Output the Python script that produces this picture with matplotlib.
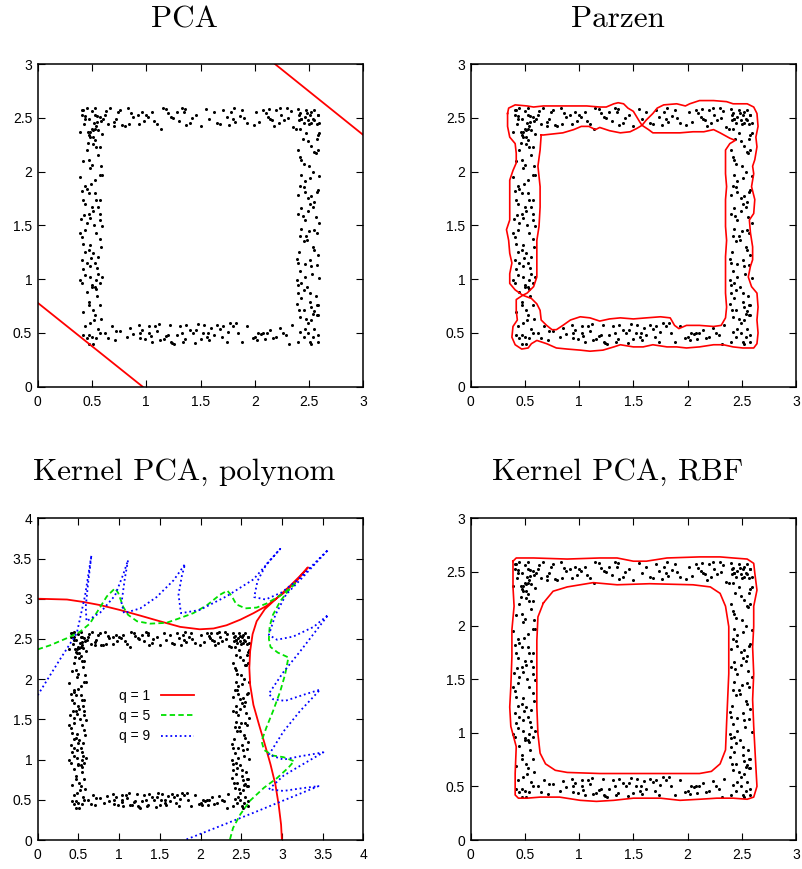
import matplotlib
matplotlib.use("Agg")
import matplotlib.pyplot as plt
import numpy as np

# ---- data points (same sample in all four panels) ----
top_pts = [(0.41,2.57),(0.45,2.59),(0.44,2.52),(0.47,2.49),(0.50,2.56),(0.53,2.59),(0.55,2.52),(0.57,2.51),
           (0.58,2.47),(0.60,2.49),(0.62,2.53),(0.67,2.59),(0.70,2.46),(0.70,2.42),(0.72,2.49),(0.76,2.57),
           (0.78,2.43),(0.80,2.42),(0.83,2.59),(0.84,2.44),(0.88,2.51),(0.92,2.53),(0.93,2.44),(0.96,2.55),
           (1.00,2.53),(1.02,2.51),(1.05,2.55),(1.14,2.40),(1.15,2.59),(1.20,2.54),(1.23,2.51),(1.25,2.50),
           (1.30,2.47),(1.33,2.59),(1.35,2.55),(1.37,2.43),(1.36,2.58),(1.42,2.50),(1.46,2.53),(1.50,2.42),
           (1.65,2.45),(1.68,2.44),(1.71,2.57),(1.74,2.51),(1.76,2.43),(1.81,2.59),(1.80,2.49),(1.82,2.46),
           (1.86,2.52),(1.88,2.57),(1.93,2.45),(1.99,2.43),(2.08,2.57),(2.10,2.54),(2.12,2.51),(2.14,2.49),
           (2.16,2.48),(2.18,2.42),(2.20,2.57),(2.23,2.59),(2.24,2.53),(2.27,2.48),(2.30,2.59),(2.33,2.56),
           (2.35,2.41),(2.38,2.40),(2.41,2.53),(2.43,2.49),(2.46,2.51),(2.47,2.57),(2.50,2.44),(2.52,2.55),
           (2.55,2.48),(2.58,2.53),(2.59,2.45),(2.13,2.58),(1.55,2.58),(0.98,2.47),(1.10,2.44),(1.62,2.55),
           (2.04,2.46),(0.65,2.44),(0.52,2.45),(0.63,2.56),(0.86,2.54),(1.07,2.47),(1.18,2.58),(1.28,2.55),
           (1.40,2.45),(1.58,2.49),(1.78,2.55),(1.90,2.50),(2.01,2.55),(2.22,2.45),(2.31,2.50),(2.40,2.58),
           (2.49,2.48),(0.74,2.55)]
bottom_pts = [(0.68,0.56),(0.71,0.43),(0.82,0.46),(0.93,0.57),(0.94,0.50),(0.94,0.45),(0.96,0.53),(1.03,0.56),
              (1.03,0.50),(1.05,0.42),(1.08,0.56),(1.04,0.47),(1.13,0.43),(1.16,0.44),(1.22,0.57),(1.23,0.42),
              (1.26,0.40),(1.24,0.41),(1.31,0.56),(1.33,0.50),(1.36,0.44),(1.37,0.57),(1.40,0.53),(1.43,0.50),
              (1.46,0.53),(1.50,0.44),(1.53,0.57),(1.56,0.46),(1.57,0.50),(1.58,0.43),(1.65,0.57),(1.68,0.54),
              (1.71,0.56),(1.74,0.42),(1.77,0.59),(1.80,0.56),(1.83,0.59),(1.75,0.51),(1.88,0.42),(2.00,0.46),
              (2.02,0.43),(2.03,0.50),(2.06,0.49),(2.08,0.50),(2.11,0.50),(2.14,0.53),(2.20,0.46),(2.26,0.50),
              (2.32,0.40),(2.34,0.57),(1.98,0.45),(1.20,0.48),(1.10,0.52),(1.45,0.41),(1.62,0.48),(2.17,0.45),
              (0.88,0.49),(0.62,0.50),(0.76,0.52),(1.28,0.48),(0.72,0.52),(0.85,0.55),(0.99,0.44),(1.12,0.58),
              (1.18,0.47),(1.34,0.42),(1.48,0.58),(1.60,0.55),(1.70,0.46),(1.85,0.50),(1.93,0.56),(2.09,0.44),
              (2.23,0.55),(2.29,0.48),(1.52,0.50),(0.65,0.45)]
left_pts = [(0.41,2.53),(0.46,2.37),(0.48,2.37),(0.50,2.40),(0.51,2.39),(0.53,2.40),(0.54,2.42),(0.56,2.39),
            (0.47,2.34),(0.48,2.32),(0.51,2.26),(0.54,2.23),(0.57,2.23),(0.53,2.29),(0.56,2.15),(0.50,2.06),
            (0.48,2.03),(0.57,1.97),(0.59,1.97),(0.39,1.95),(0.44,1.87),(0.45,1.84),(0.47,1.80),(0.53,1.80),
            (0.50,1.67),(0.54,1.74),(0.57,1.74),(0.42,1.74),(0.44,1.70),(0.47,1.61),(0.51,1.63),(0.57,1.61),
            (0.57,1.55),(0.59,1.49),(0.45,1.52),(0.44,1.46),(0.39,1.43),(0.41,1.39),(0.54,1.43),(0.48,1.32),
            (0.47,1.27),(0.51,1.24),(0.56,1.21),(0.45,1.15),(0.53,1.15),(0.48,1.12),(0.56,1.05),(0.54,0.99),
            (0.39,0.99),(0.41,0.96),(0.50,0.95),(0.57,0.96),(0.44,1.04),(0.48,1.02),(0.41,1.18),(0.53,0.93),
            (0.50,0.93),(0.54,0.91),(0.47,0.79),(0.47,0.76),(0.57,0.76),(0.51,0.71),(0.53,0.67),(0.48,0.59),
            (0.56,0.54),(0.50,0.46),(0.45,0.45),(0.47,0.48),(0.42,0.48),(0.57,0.50),(0.47,0.40),(0.51,0.40),
            (0.39,2.37),(0.44,2.49),(0.42,2.57),(0.53,2.53),(0.51,2.32),(0.45,2.20),(0.47,2.11),(0.43,1.60),
            (0.58,1.30),(0.40,1.56),(0.49,1.88),(0.55,1.10),(0.52,0.62),(0.44,1.25),(0.58,2.05),(0.43,2.44),
            (0.55,2.46),(0.46,2.27),(0.59,2.35),(0.42,2.10),(0.53,1.92),(0.41,1.82),(0.56,1.67),(0.48,1.57),
            (0.52,1.50),(0.42,1.33),(0.57,1.37),(0.49,1.20),(0.42,1.09),(0.59,1.02),(0.45,0.88),(0.55,0.84),
            (0.42,0.69),(0.58,0.63),(0.44,0.56),(0.54,0.45)]
right_pts = [(2.49,2.28),(2.58,2.34),(2.59,2.36),(2.40,2.20),(2.42,2.14),(2.43,2.11),(2.55,2.18),(2.56,2.17),
             (2.58,2.20),(2.43,1.97),(2.46,1.91),(2.51,1.94),(2.54,2.00),(2.42,1.87),(2.45,1.86),(2.46,1.81),
             (2.49,1.75),(2.52,1.77),(2.51,1.70),(2.54,1.67),(2.57,1.81),(2.58,1.83),(2.40,1.61),(2.43,1.66),
             (2.46,1.55),(2.49,1.63),(2.55,1.46),(2.57,1.43),(2.43,1.47),(2.45,1.35),(2.48,1.36),(2.54,1.30),
             (2.55,1.27),(2.51,1.18),(2.52,1.12),(2.57,1.13),(2.39,1.19),(2.40,1.15),(2.42,1.08),(2.46,1.02),
             (2.39,0.99),(2.40,0.95),(2.43,0.96),(2.45,0.90),(2.40,0.87),(2.43,0.82),(2.51,0.87),(2.51,0.79),
             (2.52,0.74),(2.57,0.76),(2.58,0.76),(2.55,0.70),(2.57,0.67),(2.39,0.77),(2.45,0.71),(2.42,0.65),
             (2.46,0.54),(2.49,0.50),(2.51,0.42),(2.52,0.40),(2.58,0.48),(2.58,0.42),(2.45,0.46),(2.42,0.51),
             (2.52,0.62),(2.49,0.59),(2.55,0.54),(2.58,0.67),(2.42,2.54),(2.43,2.49),(2.48,2.54),(2.51,2.53),
             (2.55,2.57),(2.58,2.53),(2.45,2.45),(2.54,2.49),(2.52,2.45),(2.57,2.30),(2.42,2.40),(2.54,0.68),
             (2.47,1.40),(2.41,1.25),(2.53,1.05),(2.44,2.30),(2.56,1.58),(2.50,2.05),(2.41,2.48),(2.57,2.44),
             (2.47,2.36),(2.52,2.24),(2.45,2.07),(2.59,1.96),(2.40,1.78),(2.55,1.72),(2.44,1.59),(2.59,1.52),
             (2.50,1.45),(2.42,1.40),(2.58,1.22),(2.46,1.14),(2.59,1.01),(2.48,0.93),(2.56,0.84),(2.41,0.71),
             (2.47,0.63),(2.54,0.46),(2.40,0.42)]

# ---- PCA: two parallel lines ----
pca_low_x = [0.0, 0.967]
pca_low_y = [0.78, 0.0]
pca_high_x = [2.186, 3.0]
pca_high_y = [3.0, 2.34]

# ---- Parzen contour (outer and inner, touching at two saddles) ----
parzen_outer = [(0.34,2.54),(0.35,2.59),(0.41,2.62),(0.52,2.61),(0.58,2.60),(0.67,2.61),(0.82,2.61),(0.95,2.61),
                (1.07,2.61),(1.19,2.60),(1.25,2.60),(1.32,2.63),(1.36,2.64),(1.41,2.63),(1.45,2.59),(1.50,2.56),
                (1.53,2.51),(1.56,2.46),(1.58,2.43),(1.62,2.48),(1.68,2.54),(1.72,2.59),(1.78,2.62),(1.90,2.63),
                (1.98,2.61),(2.02,2.63),(2.11,2.66),(2.24,2.66),(2.36,2.65),(2.42,2.63),(2.55,2.63),(2.61,2.60),
                (2.64,2.54),(2.65,2.42),(2.63,2.32),(2.64,2.23),(2.62,2.11),(2.60,2.05),(2.61,1.98),(2.59,1.86),
                (2.62,1.74),(2.61,1.61),(2.57,1.55),(2.58,1.43),(2.60,1.30),(2.60,1.18),(2.58,1.12),(2.56,1.02),
                (2.59,0.93),(2.64,0.87),(2.65,0.74),(2.64,0.62),(2.65,0.50),(2.64,0.40),(2.61,0.36),(2.51,0.36),
                (2.42,0.37),(2.33,0.39),(2.24,0.39),(2.11,0.37),(1.99,0.36),(1.90,0.37),(1.81,0.37),(1.68,0.39),
                (1.59,0.37),(1.50,0.37),(1.38,0.39),(1.32,0.37),(1.22,0.34),(1.10,0.33),(1.01,0.34),(0.89,0.35),
                (0.79,0.36),(0.70,0.40),(0.61,0.43),(0.56,0.40),(0.53,0.36),(0.47,0.35),(0.41,0.39),(0.38,0.46),
                (0.39,0.56),(0.43,0.62),(0.42,0.71),(0.42,0.81),(0.48,0.85),(0.41,0.90),(0.36,0.96),(0.36,1.05),
                (0.38,1.15),(0.36,1.24),(0.35,1.36),(0.33,1.46),(0.36,1.55),(0.36,1.67),(0.36,1.80),(0.36,1.92),
                (0.39,2.01),(0.42,2.08),(0.42,2.17),(0.41,2.26),(0.36,2.32),(0.34,2.42),(0.34,2.54)]
parzen_inner = [(0.65,2.34),(0.64,2.20),(0.62,2.05),(0.64,1.86),(0.64,1.67),(0.63,1.49),(0.61,1.36),(0.61,1.18),
                (0.61,1.02),(0.58,0.93),(0.52,0.87),(0.48,0.85),(0.56,0.82),(0.61,0.77),(0.64,0.71),(0.65,0.62),
                (0.70,0.57),(0.75,0.53),(0.79,0.53),(0.85,0.57),(0.92,0.62),(1.01,0.65),(1.10,0.64),(1.19,0.61),
                (1.28,0.63),(1.38,0.64),(1.50,0.63),(1.62,0.64),(1.75,0.65),(1.84,0.64),(1.88,0.57),(1.92,0.54),
                (1.99,0.57),(2.11,0.57),(2.24,0.56),(2.31,0.57),(2.35,0.64),(2.36,0.74),(2.35,0.87),(2.35,1.05),
                (2.35,1.21),(2.36,1.36),(2.35,1.49),(2.35,1.61),(2.35,1.74),(2.36,1.86),(2.35,1.98),(2.35,2.11),
                (2.35,2.20),(2.39,2.26),(2.44,2.29),(2.39,2.31),(2.30,2.36),(2.24,2.39),(2.15,2.37),(2.05,2.37),
                (1.93,2.36),(1.81,2.36),(1.68,2.36),(1.64,2.39),(1.58,2.43),(1.53,2.40),(1.47,2.37),(1.38,2.36),
                (1.28,2.38),(1.19,2.41),(1.15,2.39),(1.09,2.42),(1.02,2.42),(0.95,2.39),(0.85,2.36),(0.76,2.35),
                (0.67,2.34),(0.65,2.34)]

# ---- Kernel PCA, polynomial: q = 1, 5, 9 ----
poly_q1 = [(0.0,3.0),(0.36,2.99),(0.56,2.96),(0.77,2.92),(1.01,2.86),(1.26,2.79),(1.50,2.72),(1.75,2.65),
           (1.99,2.62),(2.16,2.63),(2.32,2.67),(2.49,2.74),(2.65,2.82),(2.81,2.91),(3.02,3.07),(3.18,3.22),
           (3.32,3.39),(3.22,3.28),(3.10,3.16),(2.94,3.01),(2.79,2.87),(2.69,2.72),(2.64,2.56),(2.61,2.35),
           (2.60,2.14),(2.61,1.93),(2.65,1.68),(2.72,1.43),(2.79,1.19),(2.86,0.94),(2.92,0.69),(2.96,0.44),
           (2.99,0.19),(3.0,0.0)]
poly_q5 = [(0.0,2.37),(0.15,2.42),(0.36,2.51),(0.52,2.59),(0.64,2.69),(0.77,2.90),(0.85,3.03),(0.95,3.13),
           (0.99,3.07),(1.05,2.90),(1.11,2.80),(1.22,2.72),(1.38,2.69),(1.58,2.70),(1.75,2.76),(1.91,2.82),
           (2.08,2.92),(2.24,3.05),(2.33,3.10),(2.38,3.04),(2.44,2.93),(2.55,2.88),(2.69,2.89),(2.81,2.94),
           (2.98,3.04),(3.10,3.13),(3.18,3.21),(3.08,3.10),(2.98,2.97),(2.89,2.80),(2.85,2.66),(2.84,2.50),
           (2.86,2.40),(2.95,2.33),(3.08,2.27),(3.04,2.06),(2.98,1.85),(2.89,1.60),(2.81,1.40),(2.75,1.23),
           (2.78,1.12),(2.89,1.05),(3.02,1.03),(3.15,0.98),(3.08,0.90),(2.94,0.77),(2.78,0.65),(2.61,0.49),
           (2.49,0.32),(2.40,0.15),(2.36,0.0)]
poly_q9 = [(0.0,1.80),(0.27,2.24),(0.48,2.57),(0.58,3.03),(0.66,3.54),(0.62,3.20),(0.59,2.90),(0.60,2.72),
           (0.77,2.83),(0.95,3.04),(1.05,3.30),(1.11,3.48),(1.07,3.25),(1.03,2.95),(1.06,2.82),(1.26,2.88),
           (1.46,3.02),(1.67,3.23),(1.81,3.43),(1.77,3.28),(1.73,3.05),(1.76,2.82),(1.99,2.86),(2.32,3.03),
           (2.65,3.24),(2.98,3.62),(2.81,3.43),(2.70,3.22),(2.66,3.02),(2.80,2.99),(3.00,3.08),(3.20,3.24),
           (3.57,3.61),(3.24,3.25),(3.05,3.05),(2.92,2.80),(2.84,2.55),(2.94,2.49),(3.14,2.53),(3.39,2.65),
           (3.57,2.80),(3.22,2.34),(3.02,2.09),(2.84,1.82),(2.89,1.75),(3.04,1.73),(3.28,1.81),(3.47,1.87),
           (3.22,1.60),(3.02,1.35),(2.84,1.06),(3.02,1.00),(3.22,1.04),(3.51,1.09),(3.22,0.92),(3.02,0.80),
           (2.84,0.63),(3.02,0.61),(3.22,0.64),(3.45,0.67),(2.63,0.33),(1.81,0.0)]
poly_labels = ["q = 1", "q = 5", "q = 9"]

# ---- Kernel PCA, RBF contour ----
rbf_outer = [(0.39,2.60),(0.42,2.63),(0.58,2.63),(0.89,2.62),(1.19,2.63),(1.35,2.63),(1.50,2.60),(1.62,2.60),
             (1.81,2.63),(2.11,2.64),(2.30,2.64),(2.42,2.63),(2.55,2.62),(2.61,2.58),(2.62,2.49),(2.64,2.33),
             (2.61,2.18),(2.61,1.99),(2.60,1.80),(2.61,1.55),(2.60,1.31),(2.61,1.06),(2.62,0.87),(2.63,0.68),
             (2.64,0.50),(2.61,0.40),(2.55,0.38),(2.42,0.39),(2.27,0.39),(2.11,0.38),(1.93,0.37),(1.75,0.39),
             (1.50,0.39),(1.32,0.37),(1.16,0.36),(1.01,0.37),(0.82,0.40),(0.64,0.40),(0.52,0.39),(0.44,0.39),
             (0.41,0.42),(0.41,0.62),(0.42,0.87),(0.37,1.06),(0.36,1.24),(0.37,1.43),(0.38,1.71),(0.38,1.96),
             (0.40,2.18),(0.39,2.36),(0.39,2.51),(0.39,2.60)]
rbf_inner = [(0.67,2.21),(0.76,2.32),(0.89,2.36),(1.13,2.40),(1.35,2.38),(1.65,2.39),(2.05,2.38),(2.21,2.36),
             (2.30,2.30),(2.35,2.18),(2.38,1.99),(2.38,1.55),(2.36,1.09),(2.35,0.84),(2.30,0.71),(2.22,0.64),
             (2.11,0.62),(1.81,0.62),(1.50,0.62),(1.19,0.62),(0.89,0.63),(0.78,0.65),(0.69,0.71),(0.64,0.81),
             (0.62,0.99),(0.61,1.24),(0.61,1.55),(0.61,1.86),(0.62,2.08),(0.67,2.21)]

ticks3 = [0, 0.5, 1, 1.5, 2, 2.5, 3]
ticks4 = [0, 0.5, 1, 1.5, 2, 2.5, 3, 3.5, 4]
tick_text = ["0", "0.5", "1", "1.5", "2", "2.5", "3", "3.5", "4"]
titles = ["PCA", "Parzen", "Kernel PCA, polynom", "Kernel PCA, RBF"]

RED = "#ff0000"
GREEN = "#00e000"
BLUE = "#0000ff"

pts = np.array(top_pts + bottom_pts + left_pts + right_pts)


def xy(seq):
    a = np.array(seq)
    return a[:, 0], a[:, 1]


def style_axes(ax, ticks):
    ax.set_xlim(ticks[0], ticks[-1])
    ax.set_ylim(ticks[0], ticks[-1])
    ax.set_xticks(ticks)
    ax.set_yticks(ticks)
    ax.set_xticklabels(tick_text[:len(ticks)])
    ax.set_yticklabels(tick_text[:len(ticks)])
    ax.tick_params(direction="in", top=True, right=True, length=5, width=0.8,
                   labelsize=10)
    ax.tick_params(axis="x", pad=6)
    ax.tick_params(axis="y", pad=4)
    for lab in ax.get_xticklabels() + ax.get_yticklabels():
        lab.set_fontfamily("Liberation Sans")
    for s in ax.spines.values():
        s.set_linewidth(1.1)
    ax.plot(pts[:, 0], pts[:, 1], "o", color="black", ms=2.2, mec="none")


fig = plt.figure(figsize=(8.03, 8.69), dpi=100)
W, H = 803.0, 869.0
ax_tl = fig.add_axes([37.7 / W, 1 - 386.7 / H, 325.6 / W, 322.7 / H])
ax_tr = fig.add_axes([470.7 / W, 1 - 386.7 / H, 325.3 / W, 322.7 / H])
ax_bl = fig.add_axes([37.7 / W, 1 - 840 / H, 325.6 / W, 321.7 / H])
ax_br = fig.add_axes([470.7 / W, 1 - 840 / H, 325.3 / W, 321.7 / H])

# PCA
style_axes(ax_tl, ticks3)
ax_tl.plot(pca_low_x, pca_low_y, color=RED, lw=1.3)
ax_tl.plot(pca_high_x, pca_high_y, color=RED, lw=1.3)

# Parzen
style_axes(ax_tr, ticks3)
for c in (parzen_outer, parzen_inner):
    x, y = xy(c)
    ax_tr.plot(x, y, color=RED, lw=1.2)

# Kernel PCA polynomial
style_axes(ax_bl, ticks4)
x, y = xy(poly_q1)
ax_bl.plot(x, y, color=RED, lw=1.3, label=poly_labels[0])
x, y = xy(poly_q5)
ax_bl.plot(x, y, color=GREEN, lw=1.3, ls=(0, (3, 1.8)), label=poly_labels[1])
x, y = xy(poly_q9)
ax_bl.plot(x, y, color=BLUE, lw=1.3, ls=(0, (1, 1.6)), label=poly_labels[2])
leg = ax_bl.legend(loc="center", bbox_to_anchor=(0.365, 0.385), frameon=False,
                   markerfirst=False, handlelength=2.4, handletextpad=0.8,
                   labelspacing=0.45, prop={"family": "Liberation Sans", "size": 10})

# Kernel PCA RBF
style_axes(ax_br, ticks3)
for c in (rbf_outer, rbf_inner):
    x, y = xy(c)
    ax_br.plot(x, y, color=RED, lw=1.2)

# titles (centred over each panel incl. tick labels)
title_x = [184 / W, 617.5 / W, 184 / W, 617.5 / W]
title_y = [1 - 27 / H, 1 - 27 / H, 1 - 480 / H, 1 - 480 / H]
for t, tx, ty in zip(titles, title_x, title_y):
    fig.text(tx, ty, t, ha="center", va="baseline", fontsize=22.4, fontfamily="cmr10")

fig.savefig("out.png", dpi=100)
